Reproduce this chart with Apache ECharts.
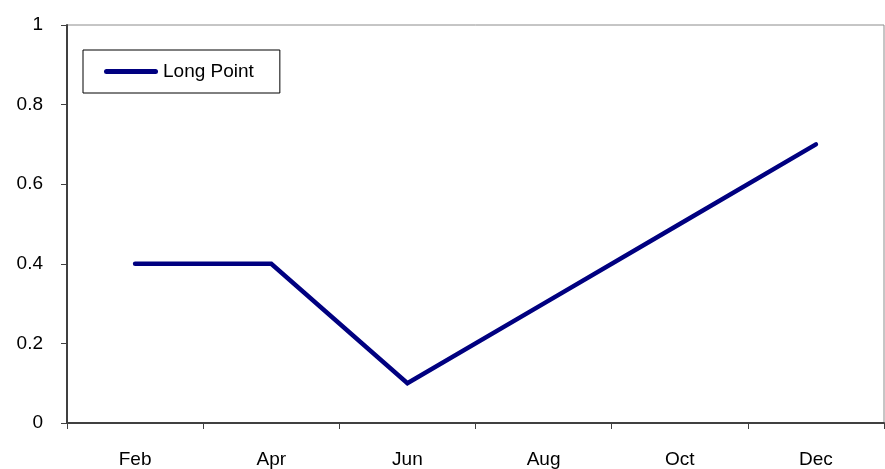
<!DOCTYPE html>
<html>
<head>
<meta charset="utf-8">
<script src="https://cdn.jsdelivr.net/npm/echarts@6/dist/echarts.min.js"></script>
<style>
  html, body { margin: 0; padding: 0; background: #fff; }
  #chart { width: 885px; height: 469px; }
</style>
</head>
<body>
<div id="chart"></div>
<script>
// Monthly readings for the Long Point site
const months = ['Feb', 'Apr', 'Jun', 'Aug', 'Oct', 'Dec'];
const longPoint = [0.4, 0.4, 0.1, 0.3, 0.5, 0.7];
const seriesName = 'Long Point';

const chart = echarts.init(document.getElementById('chart'));
const font = 'Liberation Sans, Arial, sans-serif';

chart.setOption({
  animation: false,
  backgroundColor: '#ffffff',
  grid: {
    left: 67, right: 1, top: 25, bottom: 46,
    show: true, borderColor: '#8c8c8c', borderWidth: 1, backgroundColor: 'transparent'
  },
  legend: {
    left: 83, top: 50,
    orient: 'horizontal',
    padding: [12, 26, 12, 21],
    itemWidth: 54, itemHeight: 19, itemGap: 5,
    backgroundColor: '#fff',
    borderColor: '#000', borderWidth: 1,
    textStyle: { fontFamily: font, fontSize: 19, color: '#000' },
    data: [{ name: seriesName, icon: 'path://M2.5,0 L51.5,0 A2.5,2.5 0 0 1 51.5,5 L2.5,5 A2.5,2.5 0 0 1 2.5,0 Z' }]
  },
  xAxis: {
    type: 'category',
    data: months,
    boundaryGap: true,
    axisLine: { lineStyle: { color: '#404040', width: 2 } },
    axisTick: { show: true, length: 6, lineStyle: { color: '#404040' } },
    axisLabel: { fontFamily: font, fontSize: 19, color: '#000', margin: 27 },
    splitLine: { show: false }
  },
  yAxis: {
    type: 'value',
    min: 0, max: 1, interval: 0.2,
    axisLine: { show: true, lineStyle: { color: '#404040', width: 2 } },
    axisTick: { show: true, length: 6, lineStyle: { color: '#404040' } },
    axisLabel: { fontFamily: font, fontSize: 19, color: '#000', margin: 24 },
    splitLine: { show: false }
  },
  series: [{
    name: seriesName,
    type: 'line',
    data: longPoint,
    symbol: 'none',
    lineStyle: { color: '#000080', width: 4.5, cap: 'round', join: 'miter' },
    itemStyle: { color: '#000080' }
  }]
});
</script>
</body>
</html>
